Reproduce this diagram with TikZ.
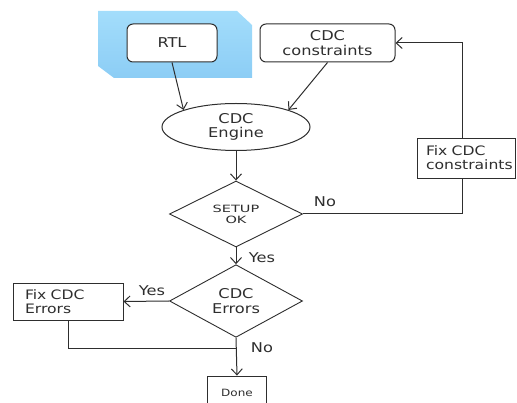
\documentclass[tikz,border=0pt]{standalone}
\usepackage{fontspec}
\setmainfont{DejaVu Sans}[FakeStretch=1.2]
\newfontfamily\widefont{DejaVu Sans}[FakeStretch=1.45]
\usetikzlibrary{arrows.meta,shapes.geometric,positioning}
\definecolor{inkgray}{HTML}{2E2E2E}
\definecolor{rtltop}{HTML}{A3DDFB}
\definecolor{rtlbot}{HTML}{8CCDF5}
\tikzset{
  flowline/.style={draw=inkgray, line width=1pt},
  flowarrow/.style={flowline, -{Straight Barb[length=6pt,width=11pt]}},
  roundbox/.style={draw=inkgray, line width=1pt, rounded corners=6pt,
    fill=white, text=inkgray, align=center, inner sep=0pt,
    font=\fontsize{13.5}{14.5}\selectfont},
  plainbox/.style={draw=inkgray, line width=0.9pt, fill=white, text=inkgray,
    inner sep=0pt, font=\fontsize{13}{14}\selectfont},
  decision/.style={diamond, draw=inkgray, line width=0.9pt, fill=white,
    text=inkgray, align=center, inner sep=0pt,
    minimum width=133pt, minimum height=66pt},
  edgelabel/.style={text=inkgray, inner sep=0pt, font=\fontsize{13.5}{14}\selectfont}
}

\begin{document}
\begin{tikzpicture}[x=1pt,y=-1pt]
  \clip (0,0) rectangle (517,403);

  % blue chip behind RTL
  \shade[top color=rtltop, bottom color=rtlbot]
    (98,11) -- (237,11) -- (252,25) -- (252,78) -- (114,78) -- (98,66) -- cycle;

  \node[roundbox, minimum width=90pt, minimum height=38pt] (rtl) at (172,43) {RTL};
  \node[roundbox, minimum width=135pt, minimum height=38pt] (cons) at (327.5,43) {CDC\\constraints};

  \node[ellipse, draw=inkgray, line width=1pt, fill=white, text=inkgray,
    align=center, inner sep=0pt, minimum width=148pt, minimum height=47pt,
    font=\fontsize{13.5}{14.5}\selectfont] (engine) at (236,127) {CDC\\Engine};

  \node[decision, font=\widefont\fontsize{10}{11}\selectfont] (sok) at (236,214) {SETUP\\OK};
  \node[decision, minimum height=62pt, font=\fontsize{13.5}{14.5}\selectfont] (errs) at (236,301) {CDC\\Errors};

  \node[plainbox, minimum width=98pt, minimum height=40pt, text width=80pt, align=left] (fixcon) at (466,158) {Fix CDC\\constraints};
  \node[plainbox, minimum width=110pt, minimum height=37pt, text width=86pt, align=left] (fixerr) at (68,301.5) {Fix CDC\\Errors};
  \node[plainbox, minimum width=59pt, minimum height=34pt, font=\fontsize{10}{11}\selectfont] (done) at (237,393) {Done};

  \coordinate (merge) at (236,349);

  % connectors
  \draw[flowarrow] (rtl.south) -- (engine.162);
  \draw[flowarrow] (cons.south) -- (engine.18);
  \draw[flowarrow] (engine.south) -- (sok.north);
  \draw[flowline] (sok.east) -| ([xshift=-4pt]fixcon.south);
  \draw[flowarrow] ([xshift=-4pt]fixcon.north) |- (cons.east);
  \draw[flowarrow] (sok.south) -- (errs.north);
  \draw[flowarrow] (errs.west) -- (fixerr.east);
  \draw[flowline] (fixerr.south) |- (merge);
  \draw[flowarrow] (errs.south) -- (done.north);

  % labels
  \node[edgelabel] (lblno) at (325,202) {No};
  \node[edgelabel] (lblyes) at (262,258) {Yes};
  \node[edgelabel] (lblfix) at (152,291) {Yes};
  \node[edgelabel] (lbldone) at (262,348) {No};
\end{tikzpicture}
\end{document}
